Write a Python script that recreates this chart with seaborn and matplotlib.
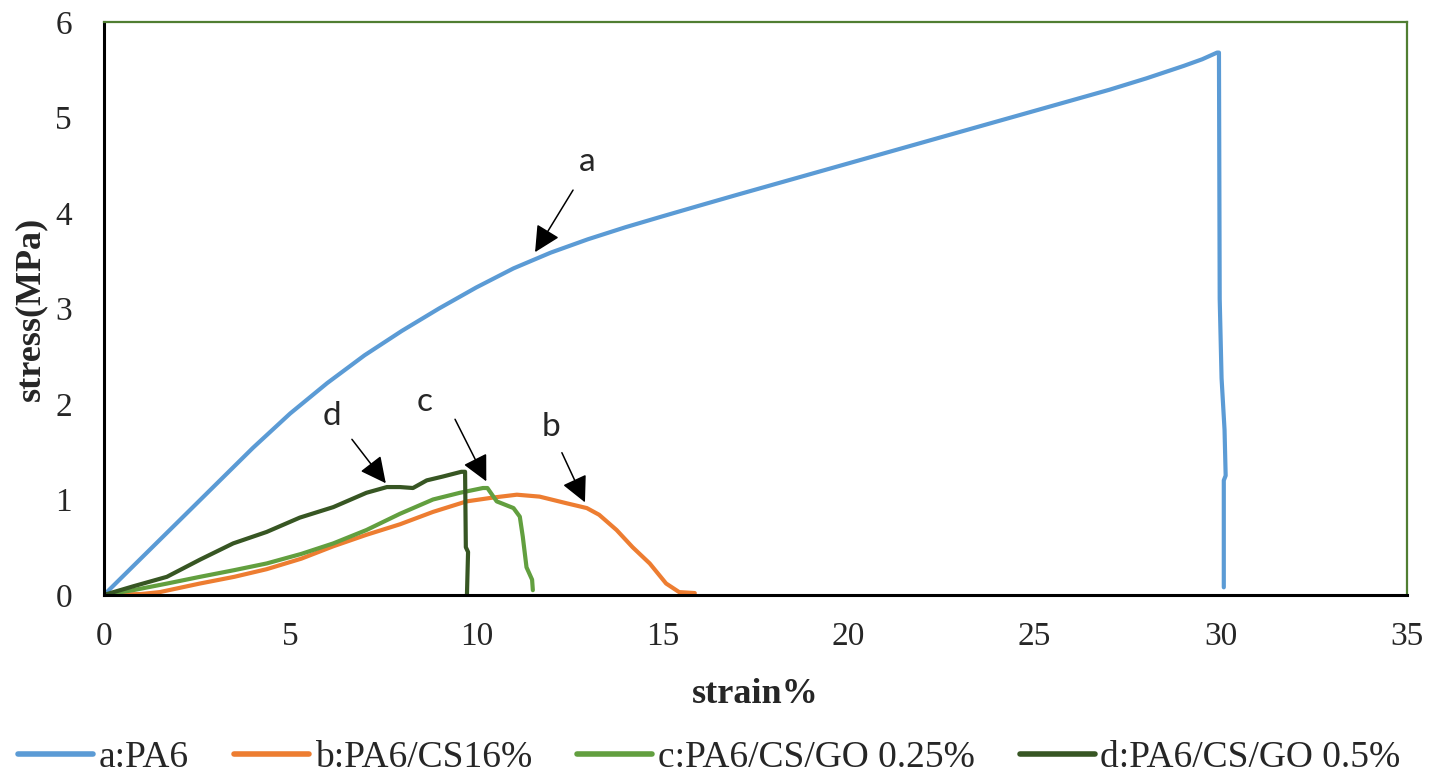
import matplotlib
matplotlib.use("Agg")
import matplotlib.pyplot as plt
import numpy as np
import pandas as pd
import seaborn as sns

# Tensile curves: strain (%) and stress (MPa) for each sample
strain_a = [0, 1, 2, 3, 4, 5, 6, 7, 8, 9, 10, 11, 12, 13, 14, 15, 16, 17, 18, 19,
            20, 21, 22, 23, 24, 25, 26, 27, 28, 29, 29.5, 29.9, 29.95,
            29.97, 30.02, 30.1, 30.13, 30.08, 30.08]
stress_a = [0, 0.385, 0.77, 1.155, 1.54, 1.90, 2.22, 2.51, 2.765, 3.0, 3.22, 3.42,
            3.585, 3.725, 3.85, 3.965, 4.078, 4.19, 4.30, 4.41, 4.52, 4.63, 4.74,
            4.85, 4.96, 5.07, 5.18, 5.29, 5.41, 5.54, 5.61, 5.68, 5.68,
            3.1, 2.27, 1.73, 1.25, 1.2, 0.08]

strain_b = [0, 1.0, 1.5, 2.58, 3.5, 4.37, 5.3, 6.16, 7.05, 7.95, 8.84, 9.74, 10.45,
            11.09, 11.7, 12.43, 12.97, 13.3, 13.77, 14.2, 14.66, 15.1, 15.45, 15.87]
stress_b = [0, 0.01, 0.03, 0.12, 0.19, 0.27, 0.38, 0.51, 0.63, 0.74, 0.87, 0.98, 1.02,
            1.05, 1.03, 0.96, 0.91, 0.84, 0.68, 0.5, 0.33, 0.12, 0.03, 0.02]

strain_c = [0, 0.78, 1.7, 2.58, 3.5, 4.37, 5.3, 6.16, 7.05, 7.95, 8.84, 9.56, 10.18,
            10.3, 10.55, 11.0, 11.17, 11.25, 11.35, 11.5, 11.52]
stress_c = [0, 0.05, 0.12, 0.19, 0.26, 0.33, 0.43, 0.54, 0.68, 0.85, 1.0, 1.07, 1.12,
            1.12, 0.98, 0.91, 0.82, 0.61, 0.29, 0.16, 0.05]

strain_d = [0, 0.78, 1.69, 2.58, 3.47, 4.37, 5.26, 6.16, 7.05, 7.6, 7.95, 8.3, 8.67,
            9.1, 9.6, 9.7, 9.72, 9.78, 9.75]
stress_d = [0, 0.09, 0.19, 0.37, 0.54, 0.66, 0.81, 0.92, 1.07, 1.13, 1.13, 1.12, 1.2,
            1.24, 1.29, 1.29, 0.5, 0.45, 0.0]

labels = ["a:PA6", "b:PA6/CS16%", "c:PA6/CS/GO 0.25%", "d:PA6/CS/GO 0.5%"]
colors = ["#5B9BD5", "#ED7D31", "#629F3F", "#375623"]

x_ticks = [0, 5, 10, 15, 20, 25, 30, 35]
y_ticks = [0, 1, 2, 3, 4, 5, 6]

# Curve letters and their arrows: (letter, text pos, arrow tail, arrow tip)
marks = [
    ("a", (12.97, 4.53), (12.6, 4.24), (11.58, 3.59)),
    ("b", (12.0, 1.76), (12.3, 1.49), (12.92, 0.97)),
    ("c", (8.62, 2.02), (9.43, 1.84), (10.27, 1.19)),
    ("d", (6.12, 1.87), (6.66, 1.63), (7.57, 1.17)),
]

frames = []
for lab, xs, ys in zip(labels, [strain_a, strain_b, strain_c, strain_d],
                       [stress_a, stress_b, stress_c, stress_d]):
    frames.append(pd.DataFrame({"strain": xs, "stress": ys, "sample": lab,
                                "order": np.arange(len(xs))}))
df = pd.concat(frames, ignore_index=True)

sns.set_style("white")
plt.rcParams["font.family"] = ["Liberation Serif", "DejaVu Serif"]

fig = plt.figure(figsize=(14.42, 7.81), dpi=100)
ax = fig.add_axes([0.0721, 0.2382, 0.9036, 0.7336])

sns.lineplot(data=df, x="strain", y="stress", hue="sample", hue_order=labels,
             palette=colors, sort=False, estimator=None, units="sample",
             linewidth=3.0, ax=ax)

ax.set_xlim(0, 35)
ax.set_ylim(0, 6)
ax.set_xticks(x_ticks)
ax.set_yticks(y_ticks)
ax.tick_params(axis="both", length=0, labelsize=24)
ax.tick_params(axis="x", pad=19)
ax.tick_params(axis="y", pad=23)

for side in ("left", "bottom"):
    ax.spines[side].set_color("black")
    ax.spines[side].set_linewidth(2.2)
for side in ("top", "right"):
    ax.spines[side].set_color("#507E32")
    ax.spines[side].set_linewidth(1.6)

ax.set_xlabel("strain%", fontsize=26, fontweight="bold")
ax.set_ylabel("stress(MPa)", fontsize=26, fontweight="bold")
ax.xaxis.set_label_coords(0.5, -0.1745)
ax.xaxis.label.set_va("center")
ax.yaxis.set_label_coords(-0.056, 0.5)
ax.yaxis.label.set_va("center")

for letter, txt, tail, tip in marks:
    ax.text(txt[0], txt[1], letter, fontsize=24, family=["Lato", "DejaVu Sans"],
            ha="center", va="center")
    ax.annotate("", xy=tip, xytext=tail,
                arrowprops=dict(arrowstyle="-|>", color="black", lw=1.1,
                                mutation_scale=40, shrinkA=0, shrinkB=0))

handles, hlabels = ax.get_legend_handles_labels()
ax.get_legend().remove()
for h in handles:
    h.set_linewidth(4)
fig.legend(handles, hlabels, loc="center", bbox_to_anchor=(0.492, 0.030),
           ncol=4, frameon=False, fontsize=27, handlelength=2.0,
           handletextpad=0.15, columnspacing=1.2, borderaxespad=0)

fig.savefig("out.png", dpi=100)
